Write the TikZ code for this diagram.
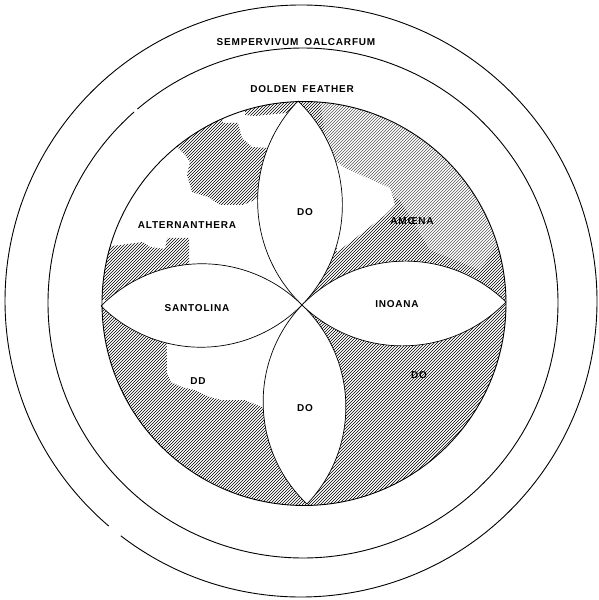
\documentclass[tikz,border=0pt]{standalone}
\usepackage{fontspec}
\setmainfont{Liberation Sans}
\newfontfamily\lblfont[LetterSpace=8]{Liberation Sans}
\usetikzlibrary{patterns}

\begin{document}
\begin{tikzpicture}[x=1pt,y=1pt,
  ring/.style={line width=0.9pt},
  petal/.style={draw,fill=white,line width=0.7pt},
  hatch/.style={pattern=north east lines},
  lbl/.style={font=\lblfont\bfseries\fontsize{10}{10}\selectfont,inner sep=1pt}]
\useasboundingbox (0,0) rectangle (598,600);
\coordinate (O) at (301,299); \coordinate (M) at (303,297);
\coordinate (Z) at (304,296.5); \coordinate (C) at (302,295);
\coordinate (T) at (298,499); \coordinate (B) at (307,96);
\coordinate (L) at (101,294); \coordinate (R) at (506,298);
% the bed, hatched with bare patches
\begin{scope}
\clip (Z) circle[radius=202pt];
\fill[hatch] (Z) circle[radius=202pt];
\fill[white] (90,515) -- (298,515) -- (T) -- (C) -- (L) -- (90,294) -- cycle;
\fill[hatch] (223,477) -- (238,477) -- (242,462) -- (252,453) -- (268,452) -- (266,405)
  -- (243,395) -- (220,395) -- (208,403) -- (192,408) -- (187,425) -- (190,438)
  -- (185,445) -- (170,460) -- (200,490) -- (220,495) -- cycle;
\fill[hatch] (90,353) -- (105,353) -- (143,358) -- (150,353) -- (165,351) -- (167,362)
  -- (189,362) -- (189,300) -- (90,300) -- cycle;
\fill[hatch] (245,510) -- (300,510) -- (300,488) -- (275,486) -- (255,484) -- (245,485) -- cycle;
\fill[white] (166,300) -- (167,242) -- (167,228) -- (171,218) -- (182,213) -- (195,210)
  -- (210,203) -- (222,200) -- (245,200) -- (262,193) -- (275,190) -- (C) -- (250,300) -- cycle;
\fill[white] (345,432) -- (367,422) -- (390,412) -- (395,395) -- (385,385) -- (372,375)
  -- (353,360) -- (337,348) -- (333,440) -- cycle;
\fill[white,opacity=.35] (320,500) -- (400,490) -- (460,440) -- (500,360) -- (480,330)
  -- (430,350) -- (400,400) -- (330,430) -- cycle;
\end{scope}
% petals
\draw[petal] (T) to[bend left=45] (C) to[bend left=45] (T);
\draw[petal] (C) to[bend left=45] (B) to[bend left=45] (C);
\draw[petal] (L) to[bend left=45] (C) to[bend left=45] (L);
\draw[petal] (C) to[bend left=45] (R) to[bend left=45] (C);
% rings
\draw[ring] (Z) circle[radius=202pt];
\draw[ring] (M) ++(131.5:255pt) arc[start angle=131.5,end angle=490.5,radius=255pt];
\draw[ring] (O) ++(232.5:296pt) arc[start angle=232.5,end angle=589.5,radius=296pt];
% labels
\node[lbl] (semp) at (296,558) {SEMPERVIVUM\hspace{6pt}OALCARFUM};
\node[lbl] (gold) at (302,511) {DOLDEN\hspace{6pt}FEATHER};
\node[lbl] (alt) at (187,375) {ALTERNANTHERA};
\node[lbl] (amo) at (412,379) {AMŒNA};
\node[lbl] (san) at (197,292) {SANTOLINA};
\node[lbl] (ino) at (397,296) {INOANA};
\node[lbl] (dotop) at (305,388) {DO}; \node[lbl] (dobot) at (305,192) {DO};
\node[lbl] (dd) at (198,219) {DD}; \node[lbl] (dor) at (419,225) {DO};
\end{tikzpicture}
\end{document}
